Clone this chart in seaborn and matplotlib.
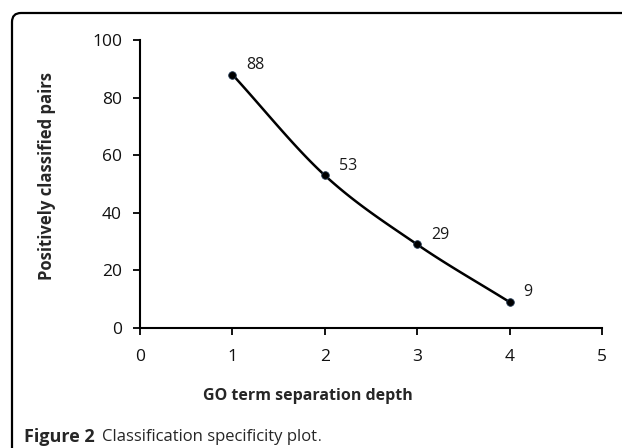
import numpy as np
import pandas as pd
import matplotlib
matplotlib.use("Agg")
import matplotlib.pyplot as plt
from matplotlib.patches import FancyBboxPatch
import seaborn as sns

depth = [1, 2, 3, 4]
pairs = [88, 53, 29, 9]
x_ticks = [0, 1, 2, 3, 4, 5]
y_ticks = [0, 20, 40, 60, 80, 100]

sns.set_theme(style="white")
plt.rcParams['font.family'] = ['Open Sans', 'DejaVu Sans']

df = pd.DataFrame({"depth": depth, "pairs": pairs})

fig = plt.figure(figsize=(6.22, 4.48), dpi=100)
ax = fig.add_axes([140/622, 1-328/448, 462/622, 288/448])

# smoothed line (Catmull-Rom through the data points, Excel-style smoothing)
xs = np.array(depth, float); ys = np.array(pairs, float)
px = np.concatenate([[2*xs[0]-xs[1]], xs, [2*xs[-1]-xs[-2]]])
py = np.concatenate([[2*ys[0]-ys[1]], ys, [2*ys[-1]-ys[-2]]])
cx, cy = [], []
t = np.linspace(0, 1, 40)
for i in range(1, len(px)-2):
    p0, p1, p2, p3 = [np.array([px[j], py[j]]) for j in (i-1, i, i+1, i+2)]
    for tt in t:
        pt = 0.5*((2*p1) + (-p0+p2)*tt + (2*p0-5*p1+4*p2-p3)*tt**2 + (-p0+3*p1-3*p2+p3)*tt**3)
        cx.append(pt[0]); cy.append(pt[1])
ax.plot(cx, cy, color="black", lw=1.8, zorder=2)
sns.scatterplot(data=df, x="depth", y="pairs", ax=ax, color="black", s=30,
                edgecolor="#1f3550", linewidth=0.6, zorder=3, legend=False)

for xv, yv in zip(depth, pairs):
    ax.annotate(str(yv), (xv, yv), xytext=(10, 7), textcoords="offset points",
                ha="left", va="center", fontsize=11.5, color="#1a1a1a")

ax.set_xlim(0, 5)
ax.set_ylim(0, 100)
ax.set_xticks(x_ticks)
ax.set_yticks(y_ticks)
ax.tick_params(axis="both", direction="out", length=5, width=1.3, color="black",
               labelsize=12.5, labelcolor="#111111", bottom=True, left=True)
ax.tick_params(axis="x", pad=10)
ax.tick_params(axis="y", pad=8)
for s in ["top", "right"]:
    ax.spines[s].set_visible(False)
for s in ["left", "bottom"]:
    ax.spines[s].set_color("black")
    ax.spines[s].set_linewidth(1.5)
ax.spines["bottom"].set_bounds(0, 5)

ax.set_xlabel("GO term separation depth", fontsize=11.5, fontweight="bold")
ax.set_ylabel("Positively classified pairs", fontsize=12, fontweight="bold")
ax.xaxis.set_label_coords((308 - 140)/462, (328 - 388)/288)
ax.yaxis.set_label_coords((56 - 140)/462, (328 - 176)/288)

fig.text(24/622, 1-437/448, "Figure 2", fontsize=13, fontweight="bold", va="center", ha="left")
cap = fig.text(102/622, 1-437/448, "Classification specificity plot", fontsize=12, va="center", ha="left")
fig.canvas.draw()
bb = cap.get_window_extent(renderer=fig.canvas.get_renderer())
fig.text((bb.x1 + 1) / 622, 1-437/448, ".", fontsize=10, va="center", ha="left")

border = FancyBboxPatch((0.12, -1.0), 10.0, 1.0 + 4.35, boxstyle="round,pad=0,rounding_size=0.09",
                        transform=fig.dpi_scale_trans, fill=False, edgecolor="black", lw=1.6)
fig.patches.append(border)

fig.savefig("out.png", dpi=100)
